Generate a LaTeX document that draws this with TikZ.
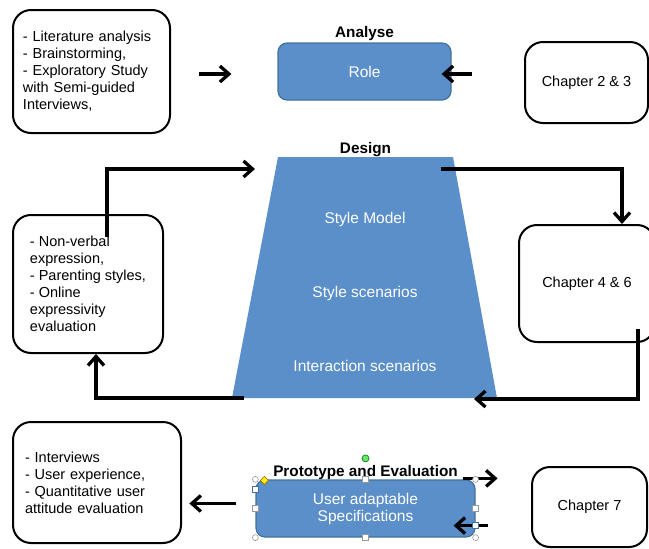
\documentclass[tikz,border=0pt]{standalone}
\usepackage{fontspec}
\setmainfont{Liberation Sans}
\usepackage{tikz}
\usetikzlibrary{
    arrows.meta,
    calc,
    positioning
}
\definecolor{rolefill}{HTML}{5B8FC9}
\definecolor{roleline}{HTML}{41719C}
\tikzstyle{arrow}=[line width=3.3pt,-{Straight Barb[length=9pt,width=16pt]}]

\begin{document}
\begin{tikzpicture}[
    x=1pt, y=-1pt,
    every node/.style={font=\fontsize{14.5}{17}\selectfont},
    notebox/.style={
        rectangle,
        rounded corners=18pt,
        draw=black,
        line width=2pt,
        fill=white,
        align=left
    },
    phase/.style={
        rectangle,
        rounded corners=9pt,
        draw=roleline,
        fill=rolefill,
        line width=1.2pt,
        text=white,
        align=center,
        font=\fontsize{15.5}{17}\selectfont
    },
    phasetitle/.style={font=\fontsize{15.3}{17}\selectfont\bfseries},
    layertext/.style={text=white,font=\fontsize{15.5}{17}\selectfont},
    selmark/.style={draw=gray!80,fill=white,line width=0.6pt}
]
\useasboundingbox (0,0) rectangle (649,549);
% analyse row
\node[notebox,minimum width=157,minimum height=123,text width=137,inner xsep=10] (lit) at (91.5,71.5) {- Literature analysis\\
- Brainstorming,\\
- Exploratory Study\\
with Semi-guided\\
Interviews,};
\node[phase,minimum width=173,minimum height=57] (role) at (364.5,71.5) {Role};
\node[phasetitle,above=-2pt of role] (analyse) {Analyse};
\node[notebox,minimum width=123,minimum height=81] (ch23) at (586.5,82.5) {Chapter 2 \& 3};
\draw[arrow] ($(role.west -| lit.east)+(28,2.5)$) -- ($(role.west)+(-46,2.5)$);
\draw[arrow] ($(role.east -| ch23.west)+(-52,2.5)$) -- ($(role.east)+(-10,2.5)$);
% design row
\coordinate (dtl) at (278,157);
\coordinate (dtr) at (453,157);
\coordinate (dbr) at (497,398);
\coordinate (dbl) at (232,398);
\fill[rolefill] (dtl) -- (dtr) -- (dbr) -- (dbl) -- cycle;
\node[phasetitle,above=-3pt] (design) at ($(dtl)!0.5!(dtr)$) {Design};
\node[layertext] (model) at (365,219) {Style Model};
\node[layertext] (styles) at (365,293) {Style scenarios};
\node[layertext] (inter) at (365,366) {Interaction scenarios};
\node[notebox,minimum width=150,minimum height=138] (nv) at (88,284) {- Non-verbal\\
expression,\\
- Parenting styles,\\
- Online\\
expressivity\\
evaluation};
\node[notebox,minimum width=136,minimum height=117] (ch46) at (587,283.5) {Chapter 4 \& 6};
\draw[arrow] ($(nv.north)+(19,23)$) |- ($(dtl)+(-23,12)$);
\draw[arrow] ($(dtr)+(-12,12)$) -| ([xshift=35]ch46.north);
\draw[arrow] ($(ch46.south east)+(-18,-14)$) |- ($(dbr)+(-23,1)$);
\draw[arrow] ($(dbl)+(12,0)$) -| ([xshift=8]nv.south);
% prototype row
\node[notebox,minimum width=168,minimum height=121,text width=144,inner xsep=12] (iv) at (97,482.5) {- Interviews\\
- User experience,\\
- Quantitative user\\
attitude evaluation};
\node[phase,minimum width=219,minimum height=57] (ua) at (365.5,508.5) {User adaptable\\Specifications};
\node[phasetitle,above=-4pt of ua] (proto) {Prototype and Evaluation};
\node[notebox,minimum width=115,minimum height=80] (ch7) at (589.5,507) {Chapter 7};
\draw[arrow] ($(ua.west)+(-19,-5)$) -- ($(ua.west)+(-66,-5)$);
\draw[arrow] ($(ua.north east)+(-13,-1)$) -- ($(ua.north east)+(22,-1)$);
\draw[arrow] ($(ua.south east)+(12,-12)$) -- ($(ua.south east)+(-22,-12)$);
% selection handles
\foreach \c in {north west,north east,south west,south east}
    \filldraw[selmark] (ua.\c) circle (3pt);
\foreach \c in {north,south,west,east}
    \filldraw[selmark] ($(ua.\c)+(-3,-3)$) rectangle +(6,6);
\filldraw[selmark,draw=roleline] ($(ua.north west)+(-3,7)$) rectangle +(6,6);
\filldraw[selmark,draw=roleline] ($(ua.south east)+(-3,-15)$) rectangle +(6,6);
\filldraw[draw=green!45!black,fill=green!55!white!90!black,line width=0.6pt] ($(ua.north)+(0,-21)$) circle (3.5pt);
\filldraw[draw=orange!70!black,fill=yellow,line width=0.5pt] ($(ua.north west)+(9,-3)$) -- +(4,4) -- +(0,8) -- +(-4,4) -- cycle;
\end{tikzpicture}
\end{document}
